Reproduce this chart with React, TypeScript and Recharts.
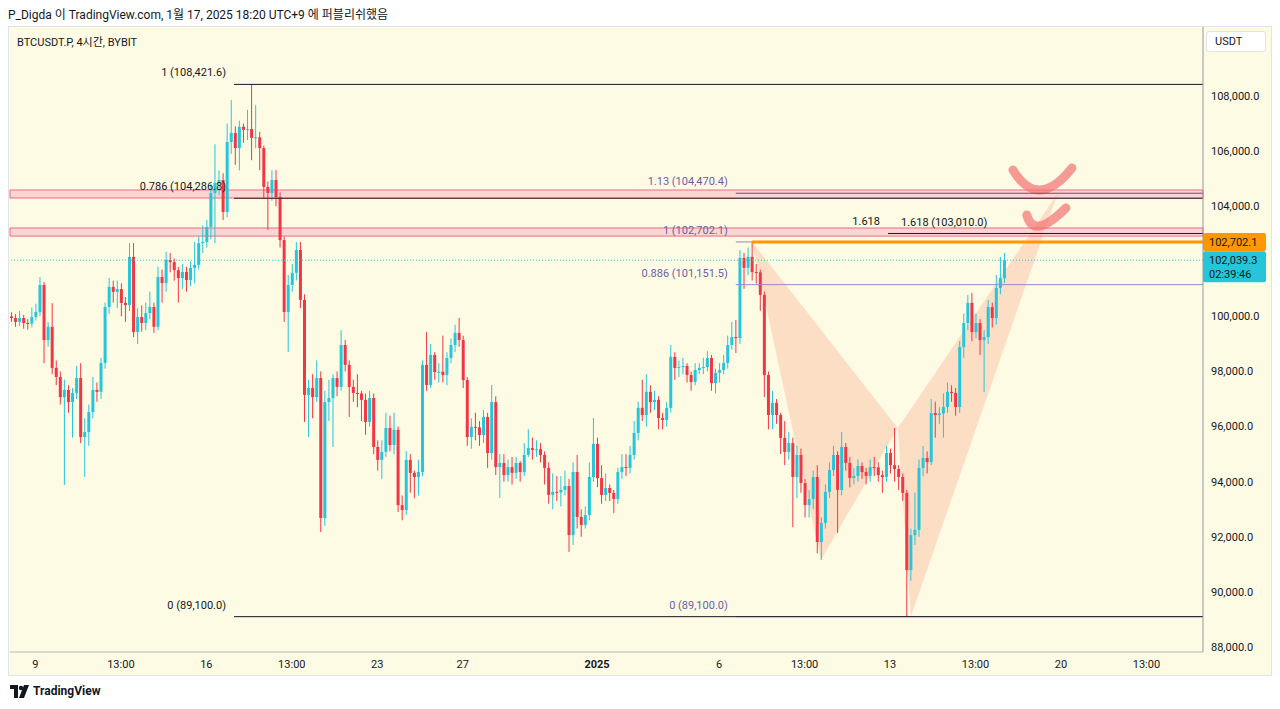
import React from 'react';
import {
  ComposedChart,
  Bar,
  XAxis,
  YAxis,
  ReferenceLine,
  ReferenceArea,
} from 'recharts';

// BTCUSDT.P 4h candles (oldest first)
const opens = [
  100000, 99940, 99800, 99940, 99760, 99740, 99980, 100160, 101140, 99140,
  99620, 98130, 97800, 97070, 97330, 96890, 97220, 97760, 95620, 95800,
  96530, 97330, 97260, 98310, 100340, 101070, 100890, 100990, 100490, 100410,
  102160, 99430, 99980, 99760, 100120, 100340, 99620, 101430, 101210, 102050,
  101970, 101680, 101390, 101610, 101320, 101760, 101870, 102660, 102700, 103250,
  104480, 104840, 104950, 103790, 106330, 106660, 106110, 106880, 106770, 106800,
  106480, 106500, 106110, 104700, 104480, 104950, 104330, 102770, 100160, 101140,
  101580, 102410, 100600, 97150, 97400, 97070, 97760, 92680, 96890, 97040,
  97760, 97440, 98960, 98240, 97440, 97220, 97200, 96970, 96170, 97040,
  95260, 94790, 95080, 95950, 95330, 95880, 93150, 92970, 94790, 94320,
  94170, 94350, 98240, 97510, 98600, 97980, 97990, 97870, 98490, 98960,
  99400, 99140, 97690, 95620, 95990, 95970, 95690, 96350, 95040, 96890,
  94530, 94680, 94240, 94530, 94320, 94680, 94350, 94970, 95220, 95150,
  95180, 94970, 94500, 93520, 93630, 93610, 93700, 93840, 92060, 94350,
  92720, 92430, 92790, 94170, 95370, 94130, 93520, 93770, 93590, 93370,
  94350, 94530, 94500, 94970, 95770, 96680, 96420, 97260, 96890, 96970,
  96310, 96240, 96680, 98530, 98130, 98160, 98200, 97870, 97620, 98050,
  98130, 98160, 98490, 97580, 97950, 98050, 98310, 98960, 99250, 99210,
  102120, 101760, 102160, 101610, 101600, 100780, 97870, 96420, 96860, 96420,
  95590, 95080, 95400, 94170, 94970, 93950, 93150, 93370, 94170, 91810,
  92500, 93630, 94420, 94970, 93700, 95260, 94680, 94130, 94210, 94570,
  94350, 94210, 94530, 94520, 94240, 94170, 95040, 94600, 94460, 94170,
  93590, 90790, 92060, 92250, 94500, 94860, 94710, 96490, 96420, 96480,
  96710, 97260, 97220, 96710, 98890, 99760, 100490, 99430, 99760, 99140,
  99250, 100340, 99940, 101030, 101390,
];

const highs = [
  100150, 100080, 100200, 100050, 99900, 100330, 100460, 101430, 101250, 99800,
  100480, 98400, 98000, 97700, 97500, 97400, 98200, 98300, 96300, 96800,
  97800, 97600, 98500, 100500, 101400, 101300, 101300, 101200, 100700, 102660,
  102660, 100300, 100400, 100500, 100900, 100500, 101800, 101700, 102350, 102300,
  102100, 101800, 101900, 101800, 102000, 102700, 102900, 103300, 103500, 104800,
  106250, 105300, 105200, 107000, 107850, 106900, 107100, 107000, 107500, 108421.6,
  107670, 106700, 106200, 104900, 105300, 105310, 104500, 102900, 101500, 101900,
  102700, 102700, 100800, 97700, 97900, 98400, 98000, 97300, 97700, 97900,
  98000, 99500, 99140, 98400, 97700, 97900, 97300, 97200, 97300, 97200,
  95500, 95500, 96500, 96400, 96500, 96000, 93500, 95100, 95000, 94400,
  94800, 98400, 99430, 99000, 98700, 98300, 99300, 98700, 99200, 99700,
  99940, 99300, 97800, 96300, 96500, 96200, 96600, 96500, 97510, 97100,
  95000, 95000, 94800, 94900, 94900, 94750, 95400, 95900, 95600, 95500,
  95400, 95100, 94700, 94300, 94200, 94200, 94400, 94100, 94700, 94970,
  93000, 93100, 94700, 96310, 95600, 94600, 94300, 93900, 93700, 94500,
  95000, 95000, 95300, 96200, 96900, 97700, 97900, 97500, 97300, 97100,
  96500, 96900, 98960, 98700, 98400, 98500, 98300, 98000, 98300, 98300,
  98500, 98740, 98600, 98100, 98300, 98600, 99300, 99800, 99870, 102410,
  102300, 102500, 102702.1, 101900, 101700, 100900, 98000, 97300, 97000, 96500,
  96200, 95800, 95600, 95300, 95200, 94100, 93700, 94400, 94600, 92700,
  93900, 94700, 95300, 95100, 95800, 95400, 94900, 94500, 94800, 94700,
  94500, 94800, 94900, 94700, 94400, 95300, 95200, 95950, 94600, 94300,
  93700, 92300, 93600, 94800, 95300, 95100, 97000, 96900, 96700, 97200,
  97600, 97500, 97400, 99100, 100100, 100780, 100850, 100100, 99900, 99500,
  100600, 100500, 101500, 102160, 102300,
];

const lows = [
  99800, 99620, 99650, 99550, 99520, 99600, 99850, 100000, 98300, 98900,
  97900, 97500, 96800, 93880, 96500, 95600, 97000, 95400, 94170, 95300,
  96300, 96900, 97000, 98100, 100100, 100500, 100300, 100000, 99800, 100200,
  99250, 99000, 99450, 99500, 99900, 99400, 99500, 100500, 100900, 101600,
  101300, 100500, 101000, 100900, 101100, 101200, 101700, 102300, 102500, 102800,
  102660, 104400, 103500, 103600, 105900, 105500, 105300, 106300, 106400, 105670,
  106100, 105310, 104300, 103140, 104200, 104000, 102500, 99800, 98710, 100900,
  101300, 100300, 96170, 95620, 96300, 96900, 92170, 92400, 96200, 95260,
  97100, 97300, 98000, 96350, 96900, 96700, 96200, 95700, 96000, 95000,
  94400, 94100, 94900, 95100, 95000, 92900, 92600, 92800, 93600, 93400,
  93500, 94200, 97300, 97400, 97700, 97600, 97600, 97500, 98300, 98700,
  98900, 97400, 95300, 95200, 95500, 95300, 95400, 94500, 94800, 94240,
  93410, 94000, 94000, 93900, 94100, 94000, 94200, 94900, 94800, 94900,
  94700, 93900, 93200, 93000, 93300, 93100, 93500, 91450, 91700, 92300,
  92000, 92300, 92600, 94000, 93800, 93200, 93300, 93300, 92860, 93200,
  94100, 94200, 94300, 94800, 95500, 96200, 96000, 96500, 96600, 95900,
  95900, 96000, 96500, 97700, 97800, 97900, 97600, 97300, 97500, 97900,
  97900, 98000, 97300, 97200, 97600, 97900, 98100, 98800, 98670, 99000,
  101000, 101500, 101300, 101200, 100200, 97070, 95900, 95900, 96100, 95000,
  94600, 94800, 92350, 93400, 93600, 92700, 92700, 93000, 91400, 91160,
  92300, 93400, 94200, 92140, 93500, 94400, 93800, 93900, 94000, 94100,
  93900, 94000, 94200, 94000, 93600, 94000, 94300, 94000, 93700, 93300,
  89100, 90400, 91700, 92000, 94200, 94300, 94600, 95600, 96100, 95600,
  96500, 96900, 96400, 96500, 98500, 99500, 99100, 99200, 98600, 97255,
  99000, 99600, 99700, 100800, 101200,
];

const closes = [
  99940, 99800, 99940, 99760, 99740, 99980, 100160, 101140, 99140, 99620,
  98130, 97800, 97070, 97330, 96890, 97220, 97760, 95620, 95800, 96530,
  97330, 97260, 98310, 100340, 101070, 100890, 100990, 100490, 100410, 102160,
  99430, 99980, 99760, 100120, 100340, 99620, 101430, 101210, 102050, 101970,
  101680, 101390, 101610, 101320, 101760, 101870, 102660, 102700, 103250, 104480,
  104840, 104950, 103790, 106330, 106660, 106110, 106880, 106770, 106800, 106480,
  106500, 106110, 104700, 104480, 104950, 104330, 102770, 100160, 101140, 101580,
  102410, 100600, 97150, 97400, 97070, 97760, 92680, 96890, 97040, 97760,
  97440, 98960, 98240, 97440, 97220, 97200, 96970, 96170, 97040, 95260,
  94790, 95080, 95950, 95330, 95880, 93150, 92970, 94790, 94320, 94170,
  94350, 98240, 97510, 98600, 97980, 97990, 97870, 98490, 98960, 99400,
  99140, 97690, 95620, 95990, 95970, 95690, 96350, 95040, 96890, 94530,
  94680, 94240, 94530, 94320, 94680, 94350, 94970, 95220, 95150, 95180,
  94970, 94500, 93520, 93630, 93610, 93700, 93840, 92060, 94350, 92720,
  92430, 92790, 94170, 95370, 94130, 93520, 93770, 93590, 93370, 94350,
  94530, 94500, 94970, 95770, 96680, 96420, 97260, 96890, 96970, 96310,
  96240, 96680, 98530, 98130, 98160, 98200, 97870, 97620, 98050, 98130,
  98160, 98490, 97580, 97950, 98050, 98310, 98960, 99250, 99210, 102120,
  101760, 102160, 101610, 101600, 100780, 97870, 96420, 96860, 96420, 95590,
  95080, 95400, 94170, 94970, 93950, 93150, 93370, 94170, 91810, 92500,
  93630, 94420, 94970, 93700, 95260, 94680, 94130, 94210, 94570, 94350,
  94210, 94530, 94520, 94240, 94170, 95040, 94600, 94460, 94170, 93590,
  90790, 92060, 92250, 94500, 94860, 94710, 96490, 96420, 96480, 96710,
  97260, 97220, 96710, 98890, 99760, 100490, 99430, 99760, 99140, 99250,
  100340, 99940, 101030, 101390, 102039.3,
];

// time axis: candle index of each label
const timeTicks = [6, 27, 48, 69, 90, 111, 144, 174, 195, 216, 237, 258, 279];
const timeLabels = ['9', '13:00', '16', '13:00', '23', '27', '2025', '6', '13:00', '13', '13:00', '20', '13:00'];
// 102,000 sits under the last-price badge, so it is not shown
const priceTicks = [88000, 90000, 92000, 94000, 96000, 98000, 100000, 104000, 106000, 108000];

// fib (black) drawn from the Dec high to the Jan low
const fibLevels = [108421.6, 104286.8, 89100];
const fibNames = ['1 (108,421.6)', '0.786 (104,286.8)', '0 (89,100.0)'];
// fib (purple) of the X leg
const xLevels = [104470.4, 102702.1, 101151.5, 89100];
const xNames = ['1.13 (104,470.4)', '1 (102,702.1)', '0.886 (101,151.5)', '0 (89,100.0)'];
const extLevel = 103010;
const lastPrice = 102039.3;
const lastPriceText = '102,039.3';
const countdown = '02:39:46';

// harmonic pattern X, A, B, C, D
const patternIdx = [182.1, 199.0, 217.9, 221.1, 257.2];
const patternPrice = [102702.1, 91160, 95950, 89100, 104470];

// hand drawn ticks near D
const mark1Idx = [246.2, 252.9, 260.7];
const mark1Price = [105314, 104588, 105386];
const mark2Idx = [249.6, 252.8, 259.2];
const mark2Price = [103681, 103281, 103935];

const X_MIN = -0.25;
const X_MAX = 292.9;
const P_MIN = 87817;
const P_MAX = 110505;
const FIB_START = 54.8;
const X_START = 178.1;
const EXT_START = 215.5;

const FONT = 'Roboto, "Noto Sans CJK KR", "Noto Sans", sans-serif';
const UP = '#26c6da';
const DOWN = '#f23645';
const INK = '#131722';
const PURPLE = '#6b5ea8';
const PURPLE_LINE = '#9a86cf';
const BG = '#fefbe5';

const candles = closes.map((c, i) => ({
  i,
  o: opens[i],
  h: highs[i],
  l: lows[i],
  c,
  range: [lows[i], highs[i]],
}));

const fmt = (v: number) =>
  v.toLocaleString('en-US', { minimumFractionDigits: 1, maximumFractionDigits: 1 });

function Candle(props: any) {
  const { x, y, width, height, payload } = props;
  if (!payload) return null;
  const { o, h, l, c } = payload;
  const k = h === l ? 0 : height / (h - l);
  const yo = y + (h - o) * k;
  const yc = y + (h - c) * k;
  const color = c >= o ? UP : DOWN;
  const cx = x + width / 2;
  const top = Math.min(yo, yc);
  const bh = Math.max(1, Math.abs(yo - yc));
  return (
    <g>
      <line x1={cx} x2={cx} y1={y} y2={y + height} stroke={color} strokeWidth={1} />
      <rect x={x} y={top} width={width} height={bh} fill={color} />
    </g>
  );
}

function TimeTick(props: any) {
  const { x, y, payload } = props;
  const label = timeLabels[timeTicks.indexOf(payload.value)];
  return (
    <text
      x={x}
      y={y}
      dy='0.71em'
      textAnchor='middle'
      fontSize={11}
      fontFamily={FONT}
      fontWeight={label === '2025' ? 700 : 400}
      fill={INK}
    >
      {label}
    </text>
  );
}

const leftLabel = (text: string, color: string, dy = -8) => (props: any) => {
  const vb = props.viewBox;
  return (
    <text x={vb.x - 8} y={vb.y + dy} textAnchor='end' fontSize={11} fontFamily={FONT} fill={color}>
      {text}
    </text>
  );
};

const rightLabel = (text: string, color: string) => (props: any) => {
  const vb = props.viewBox;
  return (
    <text x={vb.x + 13} y={vb.y - 7} fontSize={11} fontFamily={FONT} fill={color}>
      {text}
    </text>
  );
};

const axisBadge = (lines: string[], fill: string) => (props: any) => {
  const vb = props.viewBox;
  const bx = vb.x + vb.width;
  const h = lines.length > 1 ? 31 : 18;
  return (
    <g>
      <rect x={bx} y={vb.y - 9} width={63} height={h} rx={2} fill={fill} />
      {lines.map((t, k) => (
        <text key={k} x={bx + 6} y={vb.y + 4 + k * 14} fontSize={11} fontFamily={FONT} fill={INK}>
          {t}
        </text>
      ))}
    </g>
  );
};

// map (index, price) into the plot rectangle handed to a full-domain ReferenceArea
function toPx(vb: any, idx: number, price: number) {
  return [
    vb.x + ((idx - X_MIN) / (X_MAX - X_MIN)) * vb.width,
    vb.y + ((P_MAX - price) / (P_MAX - P_MIN)) * vb.height,
  ];
}

function PatternShape(props: any) {
  const pts = patternIdx.map((v, k) => toPx(props, v, patternPrice[k]));
  const tri = (a: number, b: number, c: number) =>
    [pts[a], pts[b], pts[c]].map((p) => p.join(',')).join(' ');
  return (
    <g>
      <polygon points={tri(0, 1, 2)} fill='#f89c7c' fillOpacity={0.3} />
      <polygon points={tri(2, 3, 4)} fill='#f89c7c' fillOpacity={0.3} />
    </g>
  );
}

function MarksShape(props: any) {
  const curve = (xs: number[], ps: number[]) => {
    const p = xs.map((v, k) => toPx(props, v, ps[k]));
    const cx = (4 * p[1][0] - p[0][0] - p[2][0]) / 2;
    const cy = (4 * p[1][1] - p[0][1] - p[2][1]) / 2;
    return `M${p[0][0]},${p[0][1]} Q${cx},${cy} ${p[2][0]},${p[2][1]}`;
  };
  return (
    <g fill='none' stroke='#f27474' strokeOpacity={0.72} strokeWidth={9} strokeLinecap='round'>
      <path d={curve(mark1Idx, mark1Price)} />
      <path d={curve(mark2Idx, mark2Price)} />
    </g>
  );
}

export default function App() {
  return (
    <div
      style={{
        position: 'absolute',
        left: 0,
        top: 0,
        width: 1280,
        height: 709,
        background: '#ffffff',
        fontFamily: FONT,
        overflow: 'hidden',
      }}
    >
      <div style={{ position: 'absolute', left: 8, top: 5, fontSize: 12, color: INK }}>
        P_Digda 이 TradingView.com, 1월 17, 2025 18:20 UTC+9 에 퍼블리쉬했음
      </div>
      <div
        style={{
          position: 'absolute',
          left: 8,
          top: 26,
          width: 1264,
          height: 650,
          background: BG,
          border: '1px solid #e0e3eb',
          boxSizing: 'border-box',
        }}
      />
      <ComposedChart
        width={1280}
        height={709}
        data={candles}
        margin={{ top: 27, right: 8, bottom: 33, left: 10 }}
        style={{ position: 'absolute', left: 0, top: 0 }}
      >
        <XAxis
          dataKey='i'
          type='number'
          domain={[X_MIN, X_MAX]}
          allowDataOverflow
          ticks={timeTicks}
          tick={<TimeTick />}
          tickLine={false}
          axisLine={{ stroke: '#b2b5be' }}
          height={24}
          interval={0}
        />
        <YAxis
          orientation='right'
          type='number'
          domain={[P_MIN, P_MAX]}
          allowDataOverflow
          ticks={priceTicks}
          tickFormatter={fmt}
          tick={{ fontSize: 11, fill: INK, fontFamily: FONT }}
          tickLine={false}
          axisLine={{ stroke: '#9598a1' }}
          width={69}
          interval={0}
        />
        <ReferenceArea
          x1={X_MIN}
          x2={X_MAX}
          y1={P_MIN}
          y2={P_MAX}
          ifOverflow='visible'
          shape={(p: any) => <PatternShape {...p} />}
        />
        <ReferenceArea
          x1={X_MIN}
          x2={X_MAX}
          y1={104297}
          y2={104588}
          fill='#f6b8c4'
          fillOpacity={0.55}
          stroke='#ec6c85'
          strokeWidth={1}
        />
        <ReferenceArea
          x1={X_MIN}
          x2={X_MAX}
          y1={102915}
          y2={103209}
          fill='#f6b8c4'
          fillOpacity={0.55}
          stroke='#ec6c85'
          strokeWidth={1}
        />
        <ReferenceLine
          y={lastPrice}
          stroke={UP}
          strokeDasharray='1 2'
          label={axisBadge([lastPriceText, countdown], UP)}
        />
        {xLevels.map((v, k) => (
          <ReferenceLine
            key={'x' + k}
            segment={[
              { x: X_START, y: v },
              { x: X_MAX, y: v },
            ]}
            stroke={k === 0 ? '#8a3a86' : PURPLE_LINE}
            strokeWidth={1}
            label={leftLabel(xNames[k], PURPLE)}
          />
        ))}
        {fibLevels.map((v, k) => (
          <ReferenceLine
            key={'f' + k}
            segment={[
              { x: FIB_START, y: v },
              { x: X_MAX, y: v },
            ]}
            stroke={k === 1 ? '#3b1f22' : INK}
            strokeWidth={1}
            label={leftLabel(fibNames[k], INK)}
          />
        ))}
        <ReferenceLine
          segment={[
            { x: EXT_START, y: extLevel },
            { x: X_MAX, y: extLevel },
          ]}
          stroke={INK}
          strokeWidth={1}
          label={leftLabel('1.618', INK, -8)}
        />
        <ReferenceLine
          segment={[
            { x: EXT_START, y: extLevel },
            { x: X_MAX, y: extLevel },
          ]}
          stroke='none'
          label={rightLabel('1.618 (103,010.0)', INK)}
        />
        <ReferenceLine
          segment={[
            { x: patternIdx[0], y: patternPrice[0] },
            { x: X_MAX, y: patternPrice[0] },
          ]}
          stroke='#ff9800'
          strokeWidth={3}
          label={axisBadge(['102,702.1'], '#ff9800')}
        />
        <Bar
          dataKey='range'
          barSize={3}
          isAnimationActive={false}
          shape={(p: any) => <Candle {...p} />}
        />
        <ReferenceArea
          x1={X_MIN}
          x2={X_MAX}
          y1={P_MIN}
          y2={P_MAX}
          ifOverflow='visible'
          shape={(p: any) => <MarksShape {...p} />}
        />
      </ComposedChart>
      <div style={{ position: 'absolute', left: 17, top: 33, fontSize: 11, color: INK }}>
        BTCUSDT.P, 4시간, BYBIT
      </div>
      <div
        style={{
          position: 'absolute',
          left: 1206,
          top: 31,
          width: 60,
          height: 21,
          background: '#ffffff',
          border: '1px solid #e0e3eb',
          borderRadius: 3,
          boxSizing: 'border-box',
          fontSize: 11,
          color: INK,
          paddingLeft: 8,
          lineHeight: '19px',
        }}
      >
        USDT
      </div>
      <div style={{ position: 'absolute', left: 10, top: 684, display: 'flex', alignItems: 'center' }}>
        <svg width={20} height={13} viewBox='0 0 20 13'>
          <path d='M0 0h8v13H4V4H0z' fill={INK} />
          <circle cx={11} cy={3} r={2.2} fill={INK} />
          <path d='M14 0h5l-5 13h-5z' fill={INK} />
        </svg>
        <span style={{ marginLeft: 3, fontSize: 12, fontWeight: 700, color: INK }}>TradingView</span>
      </div>
    </div>
  );
}
